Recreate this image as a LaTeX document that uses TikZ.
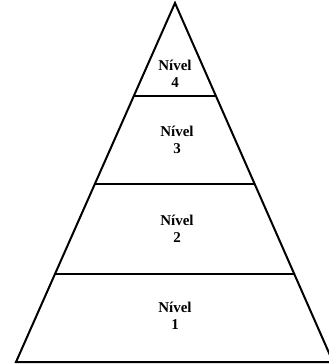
\documentclass[tikz,border=0pt]{standalone}
\usepackage{fontspec}
\setmainfont{Liberation Serif}
\usetikzlibrary{calc}
\begin{document}
\begin{tikzpicture}[x=1pt,y=-1pt,
  edge/.style={line width=2pt,line join=miter},
  lvl/.style={font=\fontsize{15}{17}\selectfont\bfseries,align=center,inner sep=0pt}]
\useasboundingbox (0,0) rectangle (329,364);
\coordinate (apex) at (175,3);
\coordinate (bl) at (16,362);
\coordinate (br) at (333,362);
\draw[edge] (bl) -- (apex) -- (br) -- cycle;
\foreach \t/\n in {0.259/a,0.504/b,0.755/c}{
  \coordinate (L\n) at ($(apex)!\t!(bl)$);
  \coordinate (R\n) at ($(apex)!\t!(br)$);
  \draw[edge] (L\n) -- (R\n);
}
\node[lvl] (l4) at (175,74) {Nível\\4};
\node[lvl] (l3) at (177,140) {Nível\\3};
\node[lvl] (l2) at (177,229) {Nível\\2};
\node[lvl] (l1) at (175,316) {Nível\\1};
\end{tikzpicture}
\end{document}
